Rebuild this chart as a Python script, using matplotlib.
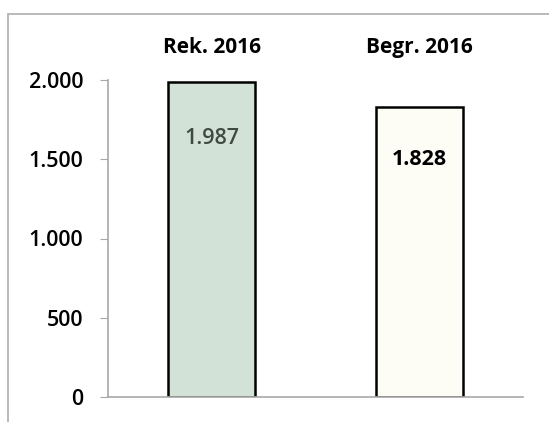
import matplotlib.pyplot as plt
from matplotlib.patches import Rectangle

# dados do gráfico
categorias = ['Rek. 2016', 'Begr. 2016']
valores = [1987, 1828]
cores = ['#d3e2d7', '#fdfdf6']
cores_texto = ['#3f4a42', '#000000']
pesos_texto = ['semibold', 'bold']
yticks = [0, 500, 1000, 1500, 2000]

plt.rcParams['font.family'] = ['Open Sans', 'DejaVu Sans']

def fmt(v):
    # separador de milhar com ponto
    return '{:,}'.format(v).replace(',', '.')

fig = plt.figure(figsize=(5.49, 4.22), dpi=100)
ax = fig.add_axes([108 / 549, 1 - 397 / 422, 415 / 549, 317 / 422])

# moldura cinza em volta do gráfico
fig.patches.append(Rectangle((8 / 549, -0.1), 1.2, 1 - 14 / 422 + 0.1,
                             transform=fig.transFigure, fill=False,
                             edgecolor='#b4b4b4', linewidth=1.3))

x = range(len(categorias))
ax.bar(x, valores, width=0.42, color=cores, edgecolor='black', linewidth=1.8)

for i, v in enumerate(valores):
    ax.text(i, v * 0.82, fmt(v), ha='center', va='center', fontsize=15.5,
            fontweight=pesos_texto[i], color=cores_texto[i])

ax.set_xlim(-0.5, 1.5)
ax.set_ylim(0, 2000)
ax.set_yticks(yticks)
ax.set_yticklabels([fmt(v) for v in yticks], fontsize=15.5, fontweight='semibold')
ax.tick_params(axis='y', length=6, color='#a8a8a8', pad=12)

ax.set_xticks(list(x))
ax.set_xticklabels(categorias, fontsize=15, fontweight='bold')
ax.xaxis.set_ticks_position('top')
ax.tick_params(axis='x', length=0, pad=16)

for s in ['top', 'right']:
    ax.spines[s].set_visible(False)
ax.spines['left'].set_color('#a8a8a8')
ax.spines['bottom'].set_color('#a8a8a8')
ax.spines['left'].set_linewidth(1.2)
ax.spines['bottom'].set_linewidth(1.2)

fig.savefig('out.png', dpi=100)
